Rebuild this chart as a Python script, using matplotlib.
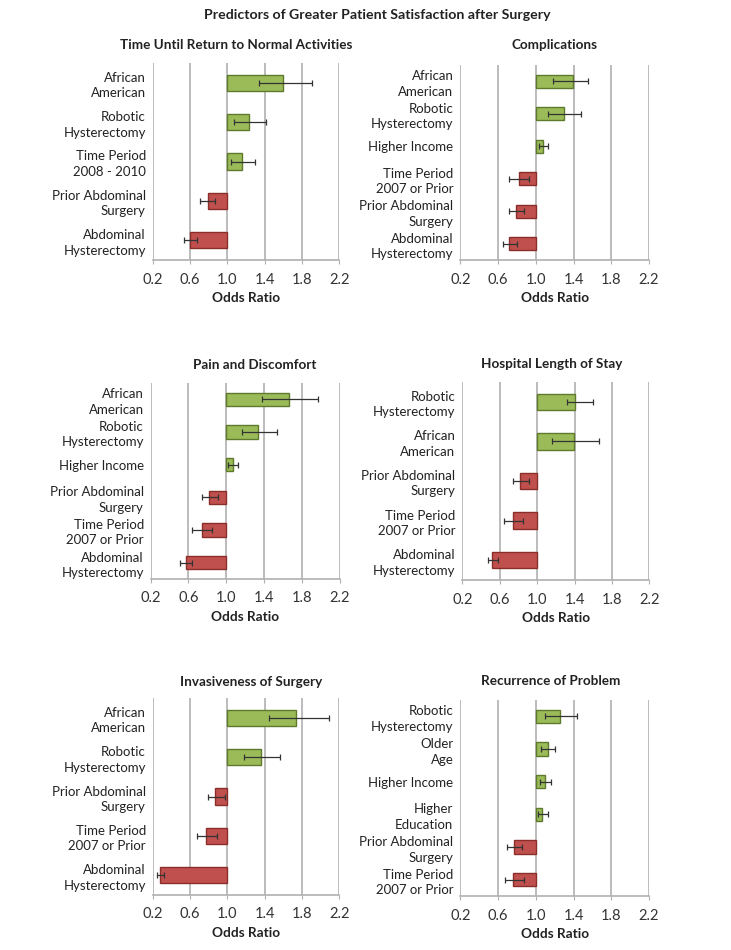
import matplotlib
matplotlib.use("Agg")
import matplotlib.pyplot as plt

plt.rcParams['font.family'] = ['Lato', 'DejaVu Sans']

# panel data: labels top -> bottom, odds ratio, lower / upper confidence limit
t1_labels = ["African\nAmerican", "Robotic\nHysterectomy", "Time Period\n2008 - 2010",
             "Prior Abdominal\nSurgery", "Abdominal\nHysterectomy"]
t1_or = [1.60, 1.23, 1.16, 0.79, 0.60]
t1_lo = [1.34, 1.07, 1.04, 0.71, 0.54]
t1_hi = [1.91, 1.41, 1.30, 0.87, 0.67]

t2_labels = ["African\nAmerican", "Robotic\nHysterectomy", "Higher Income",
             "Time Period\n2007 or Prior", "Prior Abdominal\nSurgery", "Abdominal\nHysterectomy"]
t2_or = [1.39, 1.30, 1.08, 0.82, 0.79, 0.72]
t2_lo = [1.18, 1.13, 1.03, 0.72, 0.72, 0.65]
t2_hi = [1.55, 1.48, 1.13, 0.93, 0.87, 0.80]

t3_labels = ["African\nAmerican", "Robotic\nHysterectomy", "Higher Income",
             "Prior Abdominal\nSurgery", "Time Period\n2007 or Prior", "Abdominal\nHysterectomy"]
t3_or = [1.66, 1.34, 1.07, 0.82, 0.74, 0.57]
t3_lo = [1.38, 1.17, 1.02, 0.74, 0.64, 0.51]
t3_hi = [1.97, 1.54, 1.12, 0.91, 0.85, 0.64]

t4_labels = ["Robotic\nHysterectomy", "African\nAmerican", "Prior Abdominal\nSurgery",
             "Time Period\n2007 or Prior", "Abdominal\nHysterectomy"]
t4_or = [1.40, 1.39, 0.82, 0.74, 0.52]
t4_lo = [1.32, 1.16, 0.74, 0.65, 0.47]
t4_hi = [1.60, 1.66, 0.91, 0.85, 0.58]

t5_labels = ["African\nAmerican", "Robotic\nHysterectomy", "Prior Abdominal\nSurgery",
             "Time Period\n2007 or Prior", "Abdominal\nHysterectomy"]
t5_or = [1.74, 1.36, 0.87, 0.77, 0.28]
t5_lo = [1.45, 1.18, 0.79, 0.67, 0.25]
t5_hi = [2.09, 1.56, 0.97, 0.89, 0.32]

t6_labels = ["Robotic\nHysterectomy", "Older\nAge", "Higher Income", "Higher\nEducation",
             "Prior Abdominal\nSurgery", "Time Period\n2007 or Prior"]
t6_or = [1.26, 1.13, 1.10, 1.07, 0.77, 0.76]
t6_lo = [1.10, 1.06, 1.05, 1.02, 0.69, 0.67]
t6_hi = [1.44, 1.20, 1.16, 1.13, 0.85, 0.87]

titles = ["Time Until Return to Normal Activities", "Complications", "Pain and Discomfort",
          "Hospital Length of Stay", "Invasiveness of Surgery", "Recurrence of Problem"]
xticks = [0.2, 0.6, 1.0, 1.4, 1.8, 2.2]

panels = [(t1_labels, t1_or, t1_lo, t1_hi), (t2_labels, t2_or, t2_lo, t2_hi),
          (t3_labels, t3_or, t3_lo, t3_hi), (t4_labels, t4_or, t4_lo, t4_hi),
          (t5_labels, t5_or, t5_lo, t5_hi), (t6_labels, t6_or, t6_lo, t6_hi)]

W, H = 731, 950
# axes boxes in pixels: x0, x1, top, bottom ; title centre x, title y
boxes = [(152.7, 339.3, 63, 260, 236, 45), (460.3, 649.0, 65, 260, 554.5, 45),
         (150.7, 339.7, 383, 579, 254.7, 365), (462.3, 649.3, 382, 580, 551.7, 364),
         (152.7, 339.3, 698, 895, 250.8, 681.7), (460.3, 649.0, 700, 896, 550.8, 681)]

green, green_edge = '#9bbb59', '#5e7a2c'
red, red_edge = '#c0504d', '#8a2e2c'
grid_c = '#b0b0b0'
txt_c = '#222222'

fig = plt.figure(figsize=(W / 100, H / 100), dpi=100)
fig.text(377 / W, 1 - 15 / H, "Predictors of Greater Patient Satisfaction after Surgery",
         ha='center', va='center', fontsize=10.2, fontweight='bold', color=txt_c)

for (labels, ors, los, his), (x0, x1, top, bot, tx, ty), title in zip(panels, boxes, titles):
    ax = fig.add_axes([x0 / W, 1 - bot / H, (x1 - x0) / W, (bot - top) / H])
    n = len(labels)
    ypos = list(range(n))
    widths = [o - 1.0 for o in ors]
    colors = [green if o > 1 else red for o in ors]
    edges = [green_edge if o > 1 else red_edge for o in ors]
    ax.barh(ypos, widths, left=1.0, height=0.41, color=colors, edgecolor=edges,
            linewidth=1.0, zorder=3)
    xerr = [[o - l for o, l in zip(ors, los)], [h - o for o, h in zip(ors, his)]]
    ax.errorbar(ors, ypos, xerr=xerr, fmt='none', ecolor='#333333', elinewidth=0.9,
                capsize=2.3, capthick=0.9, zorder=4)
    ax.set_xlim(0.2, 2.2)
    ax.set_ylim(n - 0.5, -0.5)
    ax.set_xticks(xticks)
    ax.set_xticklabels([f"{v:.1f}" for v in xticks], fontsize=10.5, color='#333333')
    ax.set_yticks(ypos)
    ax.set_yticklabels(labels, fontsize=9.5, color=txt_c, linespacing=1.35)
    ax.tick_params(axis='y', length=0, pad=5)
    ax.tick_params(axis='x', length=3, color=grid_c, pad=6)
    for xv in xticks:
        ax.axvline(xv, color=grid_c, lw=1.2, zorder=1)
    for s in ['top', 'right', 'left']:
        ax.spines[s].set_visible(False)
    ax.spines['bottom'].set_color(grid_c)
    ax.spines['bottom'].set_linewidth(1.2)
    ax.set_xlabel("Odds Ratio", fontsize=9.8, fontweight='bold', color=txt_c, labelpad=4)
    fig.text(tx / W, 1 - ty / H, title, ha='center', va='center', fontsize=9.7,
             fontweight='bold', color=txt_c)

fig.savefig("out.png", dpi=100)
